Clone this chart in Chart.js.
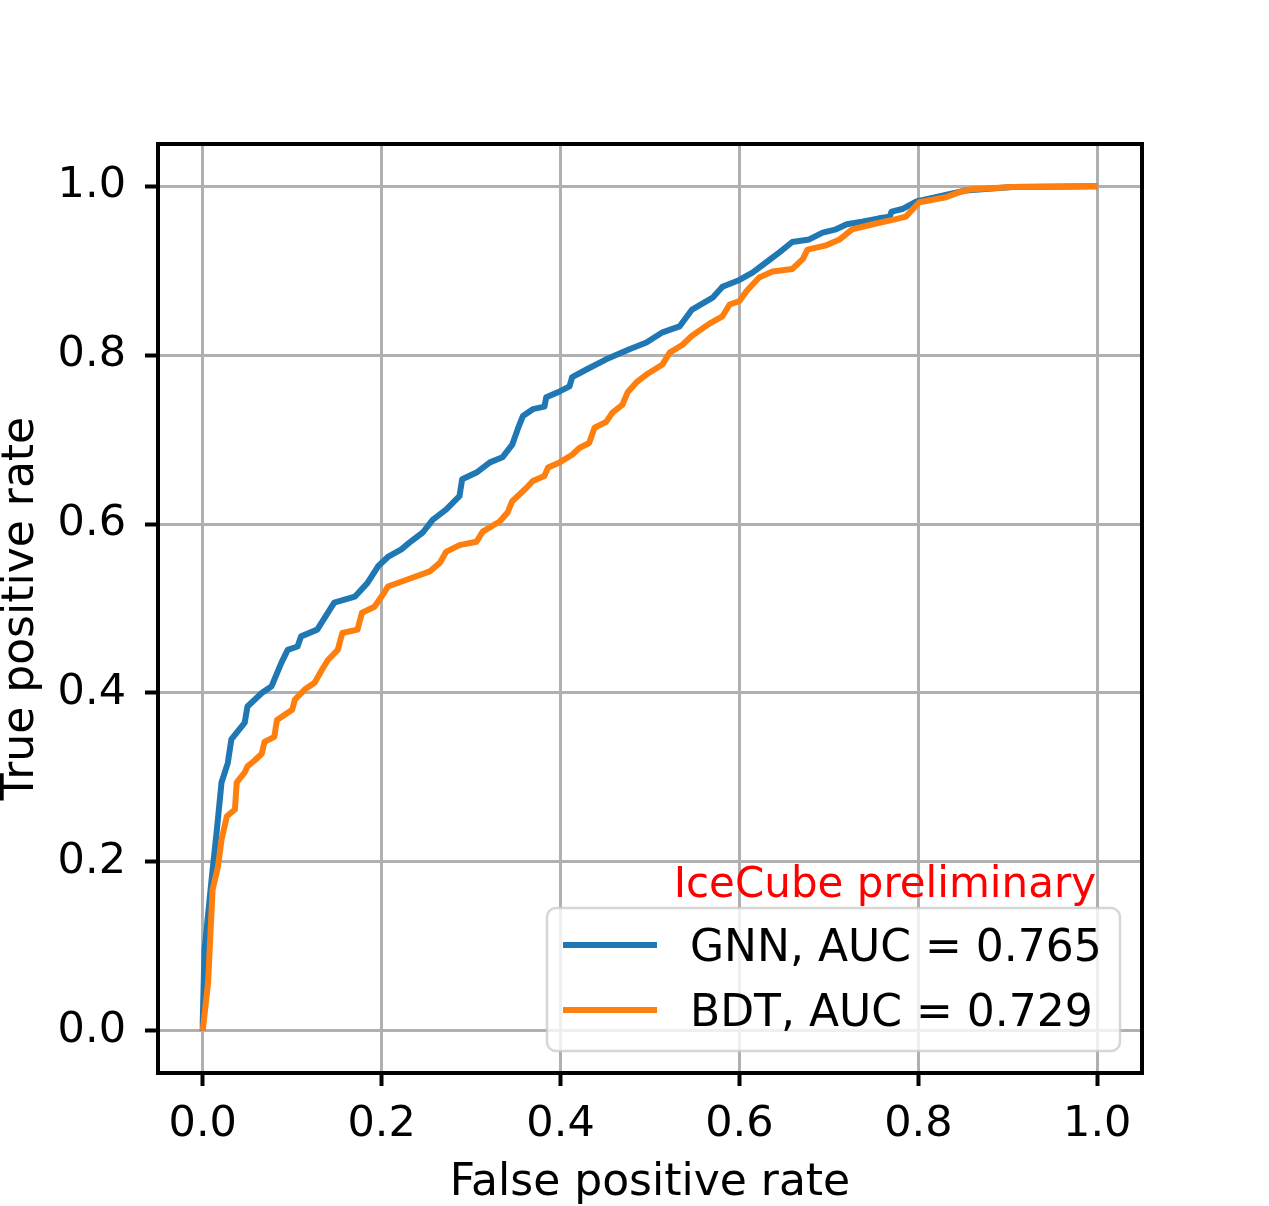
<!DOCTYPE html>
<html>
<head>
<meta charset="UTF-8">
<title>ROC curve</title>
<script src="https://cdn.jsdelivr.net/npm/chart.js@4.4.0/dist/chart.umd.min.js"></script>
<style>
  body { margin: 0; background: #fff; }
</style>
</head>
<body>
<canvas id="roc" width="1269" height="1206"></canvas>
<script>
  // values: [false positive rate, true positive rate]
  var xTicks = [0.0, 0.2, 0.4, 0.6, 0.8, 1.0];
  var yTicks = [0.0, 0.2, 0.4, 0.6, 0.8, 1.0];
  var seriesLabels = ["GNN, AUC = 0.765", "BDT, AUC = 0.729"];
  var seriesColors = ["#1f77b4", "#ff7f0e"];
  var noteText = "IceCube preliminary";

  var gnnPoints = [
    [0, 0], [0.0, 0.01], [0.002, 0.096], [0.01, 0.18], [0.016, 0.24], [0.021, 0.294],
    [0.028, 0.317], [0.032, 0.345], [0.038, 0.353], [0.047, 0.365], [0.05, 0.384],
    [0.066, 0.40], [0.077, 0.408], [0.088, 0.436], [0.095, 0.451], [0.106, 0.455],
    [0.11, 0.467], [0.128, 0.475], [0.147, 0.507], [0.17, 0.514], [0.184, 0.53],
    [0.196, 0.55], [0.207, 0.561], [0.222, 0.57], [0.231, 0.578], [0.246, 0.59],
    [0.257, 0.605], [0.272, 0.617], [0.287, 0.633], [0.29, 0.653], [0.306, 0.661],
    [0.321, 0.673], [0.335, 0.679], [0.346, 0.694], [0.352, 0.712], [0.358, 0.728],
    [0.369, 0.736], [0.382, 0.739], [0.384, 0.75], [0.399, 0.757], [0.41, 0.763],
    [0.413, 0.774], [0.429, 0.783], [0.451, 0.795], [0.477, 0.807], [0.496, 0.815],
    [0.514, 0.827], [0.533, 0.834], [0.547, 0.854], [0.57, 0.868], [0.581, 0.881],
    [0.6, 0.889], [0.615, 0.898], [0.63, 0.91], [0.645, 0.922], [0.659, 0.934],
    [0.678, 0.937], [0.693, 0.945], [0.708, 0.949], [0.72, 0.955], [0.737, 0.958],
    [0.756, 0.962], [0.768, 0.964], [0.77, 0.97], [0.782, 0.973], [0.798, 0.982],
    [0.823, 0.988], [0.853, 0.995], [0.905, 0.999], [1.0, 1.0]
  ];

  var bdtPoints = [
    [0, 0], [0.006, 0.057], [0.011, 0.167], [0.017, 0.194], [0.021, 0.226], [0.027, 0.254],
    [0.036, 0.262], [0.038, 0.294], [0.047, 0.306], [0.05, 0.313], [0.058, 0.32],
    [0.066, 0.328], [0.069, 0.342], [0.08, 0.348], [0.083, 0.368], [0.10, 0.38],
    [0.103, 0.392], [0.114, 0.404], [0.125, 0.412], [0.133, 0.427], [0.14, 0.439],
    [0.151, 0.451], [0.156, 0.471], [0.173, 0.475], [0.178, 0.495], [0.192, 0.502],
    [0.203, 0.519], [0.207, 0.526], [0.228, 0.534], [0.254, 0.544], [0.265, 0.554],
    [0.272, 0.567], [0.287, 0.575], [0.306, 0.579], [0.313, 0.591], [0.332, 0.603],
    [0.341, 0.614], [0.346, 0.627], [0.362, 0.643], [0.369, 0.651], [0.382, 0.657],
    [0.386, 0.667], [0.399, 0.673], [0.413, 0.682], [0.421, 0.69], [0.432, 0.696],
    [0.438, 0.714], [0.451, 0.721], [0.458, 0.732], [0.469, 0.741], [0.475, 0.756],
    [0.485, 0.768], [0.496, 0.777], [0.514, 0.789], [0.522, 0.803], [0.536, 0.812],
    [0.547, 0.823], [0.566, 0.837], [0.581, 0.846], [0.589, 0.86], [0.6, 0.864],
    [0.608, 0.876], [0.622, 0.892], [0.637, 0.899], [0.659, 0.902], [0.671, 0.914],
    [0.676, 0.925], [0.697, 0.93], [0.712, 0.937], [0.726, 0.949], [0.749, 0.955],
    [0.775, 0.961], [0.786, 0.964], [0.801, 0.981], [0.831, 0.987], [0.846, 0.993],
    [0.857, 0.996], [0.905, 0.999], [1.0, 1.0]
  ];

  var FONT = "'DejaVu Sans', sans-serif";

  function toXY(pts) {
    return pts.map(function(p) { return { x: p[0], y: p[1] }; });
  }

  // box round the plot, legend and the red note
  var framePlugin = {
    id: "frame",
    afterDatasetsDraw: function(chart) {
      var ctx = chart.ctx, a = chart.chartArea;
      ctx.save();
      ctx.strokeStyle = "#000";
      ctx.lineWidth = 4;
      ctx.strokeRect(a.left, a.top, a.right - a.left, a.bottom - a.top);

      // legend box
      var bx = 547, by = 908, bw = 573, bh = 143;
      ctx.beginPath();
      ctx.roundRect(bx, by, bw, bh, 9);
      ctx.fillStyle = "rgba(255,255,255,0.8)";
      ctx.fill();
      ctx.lineWidth = 2.5;
      ctx.strokeStyle = "rgba(204,204,204,0.8)";
      ctx.stroke();

      ctx.font = "44px " + FONT;
      ctx.textBaseline = "alphabetic";
      var rows = [945, 1010];
      for (var i = 0; i < seriesLabels.length; i++) {
        ctx.beginPath();
        ctx.moveTo(563, rows[i]);
        ctx.lineTo(657, rows[i]);
        ctx.lineWidth = 6;
        ctx.strokeStyle = seriesColors[i];
        ctx.stroke();
        ctx.fillStyle = "#000";
        ctx.textAlign = "left";
        ctx.fillText(seriesLabels[i], 690, rows[i] + 16);
      }

      ctx.font = "42px " + FONT;
      ctx.fillStyle = "#ff0000";
      ctx.textAlign = "right";
      ctx.fillText(noteText, 1096, 897);
      ctx.restore();
    }
  };

  new Chart(document.getElementById("roc"), {
    type: "line",
    data: {
      datasets: [
        {
          label: seriesLabels[0],
          data: toXY(gnnPoints),
          borderColor: seriesColors[0],
          borderWidth: 6,
          pointRadius: 0,
          tension: 0,
          fill: false,
          borderJoinStyle: "round",
          order: 2
        },
        {
          label: seriesLabels[1],
          data: toXY(bdtPoints),
          borderColor: seriesColors[1],
          borderWidth: 6,
          pointRadius: 0,
          tension: 0,
          fill: false,
          borderJoinStyle: "round",
          order: 1
        }
      ]
    },
    options: {
      responsive: false,
      animation: false,
      devicePixelRatio: 1,
      layout: { padding: { left: 0, top: 144, right: 127, bottom: 0 } },
      plugins: { legend: { display: false }, tooltip: { enabled: false } },
      scales: {
        x: {
          type: "linear",
          min: -0.05,
          max: 1.05,
          afterBuildTicks: function(s) { s.ticks = xTicks.map(function(v) { return { value: v }; }); },
          afterFit: function(s) { s.height = 133; },
          grid: { color: "#b0b0b0", lineWidth: 3, tickColor: "#000", tickLength: 13, tickWidth: 4 },
          border: { display: false },
          ticks: {
            color: "#000",
            font: { family: FONT, size: 43 },
            padding: 13,
            maxRotation: 0,
            callback: function(v) { return v.toFixed(1); }
          },
          title: {
            display: true,
            text: "False positive rate",
            color: "#000",
            font: { family: FONT, size: 44 },
            padding: { top: 0, bottom: -4 }
          }
        },
        y: {
          type: "linear",
          min: -0.05,
          max: 1.05,
          afterBuildTicks: function(s) { s.ticks = yTicks.map(function(v) { return { value: v }; }); },
          afterFit: function(s) { s.width = 158; },
          grid: { color: "#b0b0b0", lineWidth: 3, tickColor: "#000", tickLength: 13, tickWidth: 4 },
          border: { display: false },
          ticks: {
            color: "#000",
            font: { family: FONT, size: 43 },
            padding: 19,
            callback: function(v) { return v.toFixed(1); }
          },
          title: {
            display: true,
            text: "True positive rate",
            color: "#000",
            font: { family: FONT, size: 44, lineHeight: 1.0 },
            padding: 0
          }
        }
      }
    },
    plugins: [framePlugin]
  });
</script>
</body>
</html>
